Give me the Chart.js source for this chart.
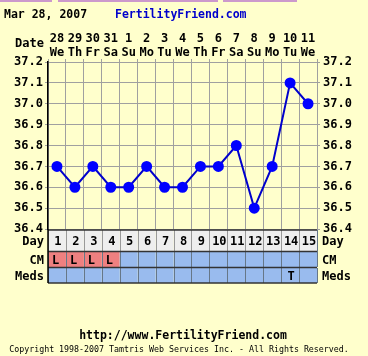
<!DOCTYPE html>
<html><head><meta charset="utf-8">
<script src="https://cdn.jsdelivr.net/npm/chart.js@4/dist/chart.umd.min.js"></script>
<style>html,body{margin:0;padding:0;background:#ffffcc;}#c{display:block;}</style>
</head><body>
<canvas id="c" width="368" height="356"></canvas>
<script>
const dayNums = ["28","29","30","31","1","2","3","4","5","6","7","8","9","10","11"];
const weekdays = ["We","Th","Fr","Sa","Su","Mo","Tu","We","Th","Fr","Sa","Su","Mo","Tu","We"];
const temps = [36.7,36.6,36.7,36.6,36.6,36.7,36.6,36.6,36.7,36.7,36.8,36.5,36.7,37.1,37.0];
const cycleDays = ["1","2","3","4","5","6","7","8","9","10","11","12","13","14","15"];
const cmValues = ["L","L","L","L","","","","","","","","","","",""];
const medsValues = ["","","","","","","","","","","","","","T",""];
const yTicks = [36.4,36.5,36.6,36.7,36.8,36.9,37.0,37.1,37.2];

const FONT = "'DejaVu Sans Mono', monospace";
const labels = dayNums.map((d,i)=>[d, weekdays[i]]);

const tablePlugin = {
  id:'table',
  beforeDraw(chart){
    const ctx = chart.ctx;
    ctx.save();
    ctx.fillStyle='#ffffcc';
    ctx.fillRect(0,0,chart.width,chart.height);
    ctx.fillStyle='#cc99cc';
    ctx.fillRect(0,0,52,2);
    ctx.fillRect(58,0,160,2);
    ctx.fillRect(223,0,74,2);
    ctx.restore();
  },
  afterDraw(chart){
    const ctx = chart.ctx;
    const x = chart.scales.x;
    const area = chart.chartArea;
    const w = x.getPixelForValue(1) - x.getPixelForValue(0);
    const rows = [
      {top: area.bottom+1, h: 22, vals: cycleDays, label:'Day', bg:'#eeeeee'},
      {top: area.bottom+23, h: 15, vals: cmValues, label:'CM', bg:'#99bbee'},
      {top: area.bottom+39, h: 15, vals: medsValues, label:'Meds', bg:'#99bbee'}
    ];
    ctx.save();
    rows.forEach((r,ri)=>{
      for(let i=0;i<r.vals.length;i++){
        const cx = x.getPixelForValue(i);
        const l = cx - w/2;
        let bg = r.bg;
        if(ri===1 && r.vals[i]) bg = '#ee8080';
        ctx.fillStyle = bg;
        ctx.fillRect(l, r.top, w, r.h);
        ctx.strokeStyle = ri===0 ? '#999999' : '#667788';
        ctx.lineWidth = 1;
        ctx.beginPath();
        ctx.moveTo(Math.round(l)+0.5, r.top);
        ctx.lineTo(Math.round(l)+0.5, r.top+r.h);
        ctx.stroke();
        if(r.vals[i]){
          ctx.fillStyle = '#000';
          ctx.font = "bold 12px " + FONT;
          ctx.textBaseline = 'middle';
          if(ri===1){ ctx.textAlign='left'; ctx.fillText(r.vals[i], l+4, r.top + r.h/2 + 1); }
          else { ctx.textAlign='center'; ctx.fillText(r.vals[i], cx+1, r.top + r.h/2 + 1); }
        }
      }
      ctx.strokeStyle = '#667788';
      ctx.beginPath();
      ctx.moveTo(Math.round(area.right)+0.5, r.top);
      ctx.lineTo(Math.round(area.right)+0.5, r.top+r.h);
      ctx.stroke();
      ctx.fillStyle='#000';
      ctx.font = "bold 12px " + FONT;
      ctx.textBaseline='middle';
      ctx.textAlign='right';
      ctx.fillText(r.label, area.left-4, r.top + r.h/2 + 1);
      ctx.textAlign='left';
      ctx.fillText(r.label, area.right+5, r.top + r.h/2 + 1);
    });
    ctx.strokeStyle='#333333';
    ctx.lineWidth=1.5;
    [rows[0].top, rows[1].top-0.5, rows[2].top-0.5, rows[2].top+rows[2].h].forEach(y=>{
      ctx.beginPath(); ctx.moveTo(area.left, y); ctx.lineTo(area.right, y); ctx.stroke();
    });
    ctx.strokeStyle='#000';
    ctx.lineWidth=1.5;
    ctx.beginPath(); ctx.moveTo(area.left, area.bottom); ctx.lineTo(area.left, rows[2].top+rows[2].h); ctx.stroke();
    ctx.textBaseline='alphabetic';
    ctx.textAlign='left';
    ctx.font = "bold 11.5px " + FONT;
    ctx.fillStyle='#000';
    ctx.fillText('Mar 28, 2007', 4, 18);
    ctx.fillStyle='#0000cc';
    ctx.fillText('FertilityFriend.com', 115, 18);
    ctx.fillStyle='#000';
    ctx.textAlign='right';
    ctx.font = "bold 12px " + FONT;
    ctx.fillText('Date', area.left-4, 47);
    ctx.textAlign='center';
    ctx.font = "bold 11.5px " + FONT;
    ctx.fillText('http://www.FertilityFriend.com', 183, 339);
    ctx.font = "8.3px " + FONT;
    ctx.fillText('Copyright 1998-2007 Tamtris Web Services Inc. - All Rights Reserved.', 179, 352);
    ctx.restore();
  }
};

const yCommon = {
  type:'linear', min:36.4, max:37.2,
  afterBuildTicks(s){ s.ticks = yTicks.map(v=>({value:v})); },
  grid:{color:'#a0a0a0', lineWidth:1, tickLength:3, drawOnChartArea:true},
  border:{display:true},
  ticks:{color:'#000', font:{family:FONT, weight:'bold', size:12}, padding:2,
    callback:(v)=>Number(v).toFixed(1)}
};

new Chart(document.getElementById('c'), {
  type:'line',
  data:{labels, datasets:[{
    data:temps, borderColor:'#0000cc', backgroundColor:'#0000ff',
    pointBackgroundColor:'#0000ff', pointBorderColor:'#0000ff',
    pointRadius:4.5, borderWidth:2, tension:0, clip:false
  }]},
  options:{
    responsive:false, animation:false, devicePixelRatio:1,
    layout:{padding:{left:0,right:0,top:0,bottom:0}},
    plugins:{legend:{display:false}, tooltip:{enabled:false}},
    scales:{
      x:{type:'category', position:'top', offset:true,
        grid:{offset:true, color:'#a0a0a0', tickLength:3},
        border:{display:false},
        ticks:{color:'#000', font:{family:FONT, weight:'bold', size:12, lineHeight:1.15}, padding:-1, maxRotation:0, autoSkip:false},
        afterFit(s){ s.height = 62; }
      },
      y:{...yCommon, position:'left', border:{display:true,color:'#000',width:1.5},
        afterFit(s){ s.width = 48; }},
      y2:{...yCommon, position:'right', border:{display:true,color:'#a0a0a0',width:1},
        grid:{...yCommon.grid, drawOnChartArea:false},
        ticks:{...yCommon.ticks, padding:3},
        afterFit(s){ s.width = 51; }}
    }
  },
  plugins:[tablePlugin, {id:'bottomPad', beforeLayout(chart){ chart.options.layout.padding.bottom = 127; }}]
});
</script>
</body></html>
